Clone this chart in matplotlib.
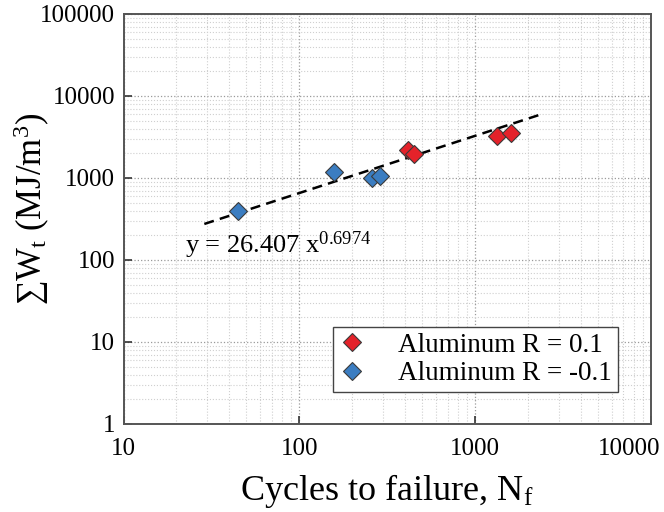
import numpy as np
import matplotlib
matplotlib.use('Agg')
import matplotlib.pyplot as plt
from matplotlib.ticker import FuncFormatter, LogLocator
from matplotlib.transforms import ScaledTranslation

# data
nf_r01 = [413, 447, 1330, 1610]
wt_r01 = [2170, 1940, 3250, 3580]
nf_rm01 = [44.5, 157, 258, 288]
wt_rm01 = [394, 1190, 1010, 1050]

# power law trend shown on the chart
coef_a = 26.407
coef_b = 0.6974
trend_x = [28.8, 2415]

x_ticks = [10, 100, 1000, 10000]
y_ticks = [1, 10, 100, 1000, 10000, 100000]

plt.rcParams['font.family'] = ['Liberation Serif', 'DejaVu Serif']
plt.rcParams['mathtext.fontset'] = 'custom'
plt.rcParams['mathtext.rm'] = 'Liberation Serif'
plt.rcParams['mathtext.it'] = 'Liberation Serif:italic'

fig = plt.figure(figsize=(6.64, 5.12), dpi=100)
ax = fig.add_axes([123.6/664, 1-424/512, (650.7-123.6)/664, (424-14)/512])

tx = np.array(trend_x)
ax.plot(tx, coef_a*tx**coef_b, color='k', ls=(0, (4, 2.5)), lw=1.8, zorder=3)

ax.plot(nf_r01, wt_r01, ls='none', marker='D', ms=8.7, mfc='#E4222A',
        mec='#3a3a3a', mew=0.8, zorder=4, label='Aluminum R = 0.1')
ax.plot(nf_rm01, wt_rm01, ls='none', marker='D', ms=8.7, mfc='#3B7DC1',
        mec='#3a3a3a', mew=0.8, zorder=4, label='Aluminum R = -0.1')

ax.set_xscale('log')
ax.set_yscale('log')
ax.set_xlim(10, 10000)
ax.set_ylim(1, 100000)
ax.set_xticks(x_ticks)
ax.set_yticks(y_ticks)

ax.xaxis.set_minor_locator(LogLocator(base=10, subs=np.arange(2, 10)))
ax.yaxis.set_minor_locator(LogLocator(base=10, subs=np.arange(2, 10)))
fmt = FuncFormatter(lambda v, p: '%d' % round(v))
ax.xaxis.set_major_formatter(fmt)
ax.yaxis.set_major_formatter(fmt)
ax.xaxis.set_minor_formatter(FuncFormatter(lambda v, p: ''))
ax.yaxis.set_minor_formatter(FuncFormatter(lambda v, p: ''))

ax.grid(True, which='major', color='#9a9a9a', ls=':', lw=0.9)
ax.grid(True, which='minor', color='#cfcfcf', ls=':', lw=0.8)
ax.set_axisbelow(True)

ax.tick_params(which='major', direction='in', length=6, width=1.2,
               color='#333333', labelsize=18, top=False, right=False)
ax.tick_params(axis='x', pad=10)
ax.tick_params(axis='y', pad=6)
ax.tick_params(which='minor', length=0)
for s in ax.spines.values():
    s.set_color('#555555')
    s.set_linewidth(1.4)

# last x label kept inside the figure, like the original
last = ax.get_xticklabels()[-1]
last.set_ha('right')
last.set_transform(last.get_transform() + ScaledTranslation(7/72, 0, fig.dpi_scale_trans))

ax.set_xlabel(r'Cycles to failure, N$_\mathrm{f}$', fontsize=26, labelpad=9)
ax.set_ylabel('\u2211W$_\\mathrm{t}$ (MJ/m$^3$)', fontsize=25)
ax.yaxis.set_label_coords(-0.136, 0.524)

ax.text(22.4, 121.6, r'y = 26.407 x$^{\mathrm{0.6974}}$', fontsize=19,
        va='baseline', ha='left')

leg = ax.legend(loc='lower right', bbox_to_anchor=(0.938, 0.078),
                borderaxespad=0, fontsize=19.5, fancybox=False, framealpha=1,
                edgecolor='#444444', handletextpad=1.2, borderpad=0.22,
                labelspacing=0.12, handlelength=1.0)
leg.get_frame().set_linewidth(1.0)

fig.savefig('out.png', dpi=100)
